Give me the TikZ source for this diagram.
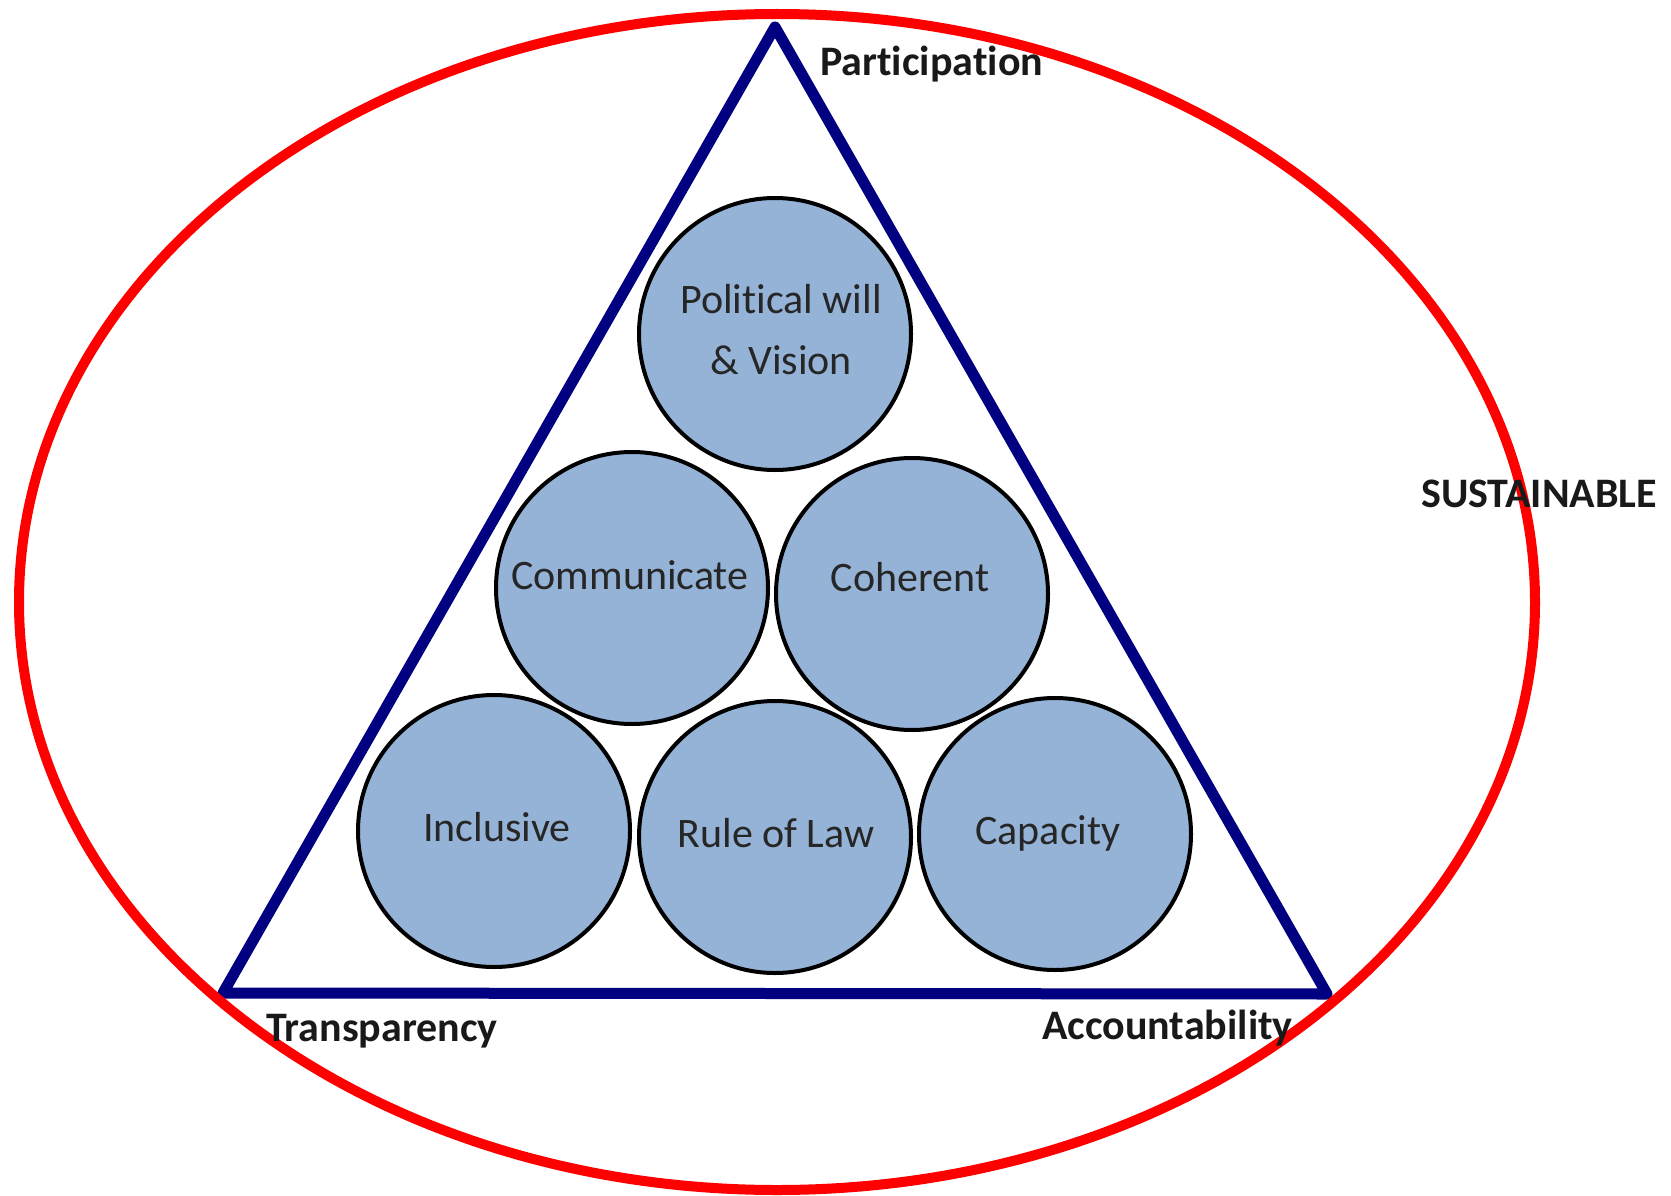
\documentclass[tikz,border=0pt]{standalone}
\usepackage{fontspec}
\setmainfont{Carlito}[Ligatures=NoCommon]
\definecolor{ringred}{RGB}{255,0,0}
\definecolor{trinavy}{RGB}{0,0,128}
\definecolor{discblue}{RGB}{149,179,215}
\begin{document}
\begin{tikzpicture}[x=1pt,y=-1pt,
  disc/.style={circle,draw=black,line width=4pt,fill=discblue,minimum size=272pt,inner sep=0pt},
  disctext/.style={font=\fontsize{42}{61}\selectfont,align=center,text=black!85},
  outerlabel/.style={font=\fontsize{42}{50}\selectfont\bfseries,text=black!90,inner sep=0pt}]
\useasboundingbox (0,0) rectangle (1671,1196);
\fill[white] (0,0) rectangle (1671,1196);
% triangle
\coordinate (apex) at (775,27);
\coordinate (bl) at (223,993);
\coordinate (br) at (1327,994);
\draw[trinavy,line width=11pt,line join=round] (apex) -- (br) -- (bl) -- cycle;
% discs
\node[disc] (pol) at (775,334) {};
\node[disc] (com) at (632,588) {};
\node[disc] (coh) at (912,594) {};
\node[disc] (inc) at (494,831) {};
\node[disc] (rol) at (775,837) {};
\node[disc] (cap) at (1055,834) {};
\node[disctext] (polt) at (781,330) {Political will\\\& Vision};
\node[disctext] (comt) at (630,575) {Communicate};
\node[disctext] (coht) at (910,577) {Coherent};
\node[disctext] (inct) at (497,827) {Inclusive};
\node[disctext] (rolt) at (776,833) {Rule of Law};
\node[disctext] (capt) at (1048,833) {Capacity};
% ring
\coordinate (ringc) at (777,602);
\draw[ringred,line width=10pt] (ringc) ellipse [x radius=758, y radius=588];
% labels
\node[outerlabel,anchor=west] (part) at (820,64) {Participation};
\node[outerlabel,anchor=west] (sus) at (1421,494) {SUSTAINABLE};
\node[outerlabel,anchor=west] (tra) at (266,1031) {Transparency};
\node[outerlabel,anchor=west] (acc) at (1042,1028) {Accountability};
\end{tikzpicture}
\end{document}
